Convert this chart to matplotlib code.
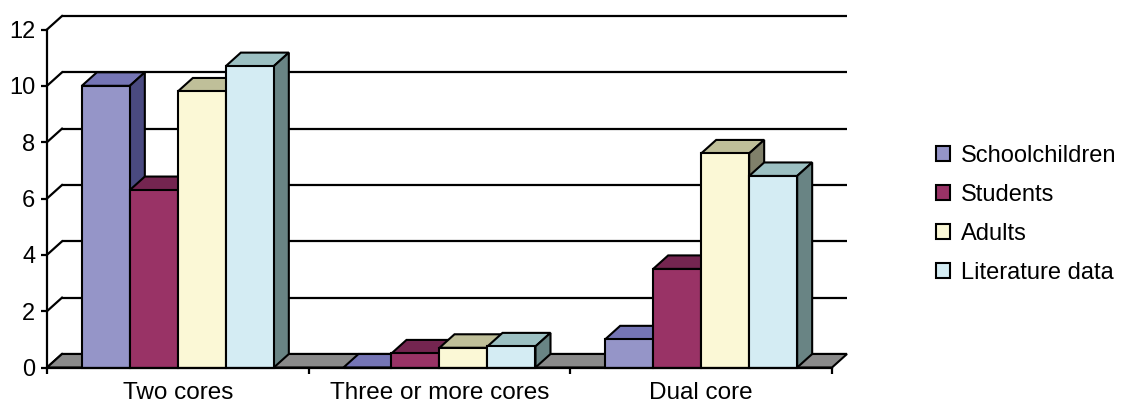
import matplotlib
matplotlib.use("Agg")
import matplotlib.pyplot as plt
from matplotlib.patches import Polygon, Rectangle

plt.rcParams['font.family'] = ['Liberation Sans', 'DejaVu Sans']

categories = ["Two cores", "Three or more cores", "Dual core"]
series = ["Schoolchildren", "Students", "Adults", "Literature data"]
schoolchildren = [10.0, 0.0, 1.0]
students = [6.3, 0.5, 3.5]
adults = [9.8, 0.7, 7.6]
literature = [10.7, 0.75, 6.8]
y_ticks = [0, 2, 4, 6, 8, 10, 12]

values = [schoolchildren, students, adults, literature]
front_colors = ["#9595C8", "#993366", "#FBF8D6", "#D4ECF3"]
top_colors = ["#7575B5", "#742550", "#BFBF99", "#9CC0C2"]
side_colors = ["#4A4A80", "#4D1A33", "#80806A", "#698484"]

W, H = 1124, 405
fig = plt.figure(figsize=(W / 100, H / 100), dpi=100)
ax = fig.add_axes([47 / W, (H - 367.5) / H, 785 / W, 338 / H])
ax.set_xlim(0, len(categories))
ax.set_ylim(0, 12)

# oblique depth of the 3-D box, expressed in data units
px_x = 785 / len(categories)
px_y = 338 / 12
dx = 15 / px_x
dy = 13.5 / px_y
bar_w = 48 / px_x
lw = 1.5
glw = 1.6
nc = len(categories)

# back wall gridlines and side-wall connectors
for v in y_ticks:
    ax.plot([dx, nc + dx], [v + dy, v + dy], color="black", lw=glw,
            clip_on=False, zorder=1, solid_capstyle="butt")
    ax.plot([0, dx], [v, v + dy], color="black", lw=glw, clip_on=False, zorder=1)

# floor
floor = Polygon([(0, 0), (nc, 0), (nc + dx, dy), (dx, dy)], closed=True,
                facecolor="#8A8A8A", edgecolor="black", lw=lw, clip_on=False, zorder=2)
ax.add_patch(floor)

# bars, painted left to right so each front face hides its neighbour's side
z = 3
for i in range(nc):
    for j, vals in enumerate(values):
        v = vals[i]
        x0 = i + 0.5 - 2 * bar_w + j * bar_w
        top = Polygon([(x0, v), (x0 + bar_w, v), (x0 + bar_w + dx, v + dy), (x0 + dx, v + dy)],
                      closed=True, facecolor=top_colors[j], edgecolor="black", lw=lw,
                      clip_on=False, zorder=z)
        side = Polygon([(x0 + bar_w, 0), (x0 + bar_w + dx, dy), (x0 + bar_w + dx, v + dy), (x0 + bar_w, v)],
                       closed=True, facecolor=side_colors[j], edgecolor="black", lw=lw,
                       clip_on=False, zorder=z)
        front = Rectangle((x0, 0), bar_w, v, facecolor=front_colors[j], edgecolor="black",
                          lw=lw, clip_on=False, zorder=z + 1)
        ax.add_patch(top)
        ax.add_patch(side)
        ax.add_patch(front)
        z += 2

# axes
for s in ["top", "right"]:
    ax.spines[s].set_visible(False)
for s in ["left", "bottom"]:
    ax.spines[s].set_linewidth(glw)
    ax.spines[s].set_zorder(50)

ax.set_yticks(y_ticks)
ax.set_yticklabels([str(t) for t in y_ticks])
ax.tick_params(axis="y", length=4.5, width=glw, pad=4, labelsize=17)

ax.set_xticks(range(nc + 1))
ax.set_xticklabels([""] * (nc + 1))
ax.set_xticks([i + 0.5 for i in range(nc)], minor=True)
ax.set_xticklabels(categories, minor=True)
ax.tick_params(axis="x", which="major", length=4.5, width=glw)
ax.tick_params(axis="x", which="minor", length=0, pad=10.5, labelsize=17.5)
ax.patch.set_visible(False)

handles = [Rectangle((0, 0), 1, 1, facecolor=c, edgecolor="black", lw=1.5) for c in front_colors]
fig.legend(handles, series, loc="upper left", bbox_to_anchor=(936 / W, 1 - 145 / H),
           frameon=False, fontsize=17, handlelength=0.6, handleheight=0.6,
           handletextpad=0.45, labelspacing=0.72, borderpad=0, borderaxespad=0)

fig.savefig("out.png", dpi=100)
